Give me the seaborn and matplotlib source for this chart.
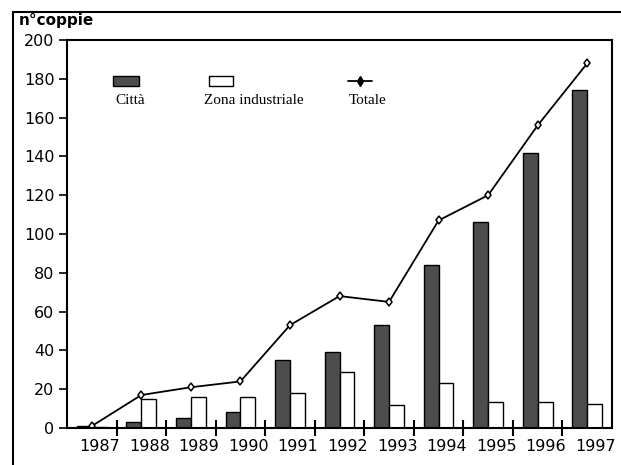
import numpy as np
import pandas as pd
import matplotlib
matplotlib.use("Agg")
import matplotlib.pyplot as plt
import matplotlib.transforms as mtransforms
from matplotlib.patches import Rectangle
from matplotlib.lines import Line2D
import seaborn as sns

# Coppie nidificanti per anno
anni = ["1987", "1988", "1989", "1990", "1991", "1992", "1993", "1994", "1995", "1996", "1997"]
citta = [1, 3, 5, 8, 35, 39, 53, 84, 106, 142, 174]
zona_industriale = [0.5, 15, 16, 16, 18, 29, 12, 23, 13.5, 13.5, 12.5]
totale = [1, 17, 21, 24, 53, 68, 65, 107, 120, 156, 188]
y_ticks = [0, 20, 40, 60, 80, 100, 120, 140, 160, 180, 200]

serie_barre = ["Città", "Zona industriale"]
colori = {"Città": "#4d4d4d", "Zona industriale": "white"}

df_barre = pd.DataFrame({
    "anno": anni * 2,
    "serie": [serie_barre[0]] * len(anni) + [serie_barre[1]] * len(anni),
    "valore": citta + zona_industriale,
})
df_tot = pd.DataFrame({"anno": anni, "totale": totale})

sns.set_theme(style="white")
plt.rcParams["font.family"] = ["DejaVu Sans"]

fig = plt.figure(figsize=(6.21, 4.65), dpi=100)
ax = fig.add_axes([67 / 621, 1 - 428 / 465, (612 - 67) / 621, (428 - 40) / 465])

sns.barplot(data=df_barre, x="anno", y="valore", hue="serie", hue_order=serie_barre,
            palette=colori, width=0.6, dodge=True, edgecolor="black", linewidth=1.0,
            saturation=1, legend=False, ax=ax)
sns.pointplot(data=df_tot, x="anno", y="totale", color="black", markers="d",
              linestyles="-", errorbar=None, ax=ax,
              markersize=4.5, markerfacecolor="white", markeredgecolor="black",
              markeredgewidth=1.1, linewidth=1.3)

ax.set_xlim(-0.5, len(anni) - 0.5)
ax.set_ylim(0, 200)
ax.set_yticks(y_ticks)
ax.set_xlabel("")
ax.set_ylabel("")

for s in ax.spines.values():
    s.set_visible(True)
    s.set_color("black")
    s.set_linewidth(1.5)

# tacche dell'asse x tra un anno e l'altro
ax.set_xticks(np.arange(len(anni) - 1) + 0.5, minor=True)
ax.tick_params(axis="x", which="major", length=0, pad=8, labelsize=11.5, colors="black")
ax.tick_params(axis="x", which="minor", bottom=True, length=12, width=1.5,
               direction="inout", color="black")
ax.tick_params(axis="y", which="major", left=True, length=6, width=1.2,
               direction="out", pad=3, labelsize=11.5, colors="black")

shift = mtransforms.ScaledTranslation(0.08, 0, fig.dpi_scale_trans)
for lab in ax.get_xticklabels():
    lab.set_transform(lab.get_transform() + shift)

# legenda con i simboli sopra le etichette
font_leg = dict(family="Liberation Serif", size=11, color="black",
                transform=ax.transAxes, va="center", ha="left")
ax.add_patch(Rectangle((0.0844, 0.882), 0.047, 0.025, transform=ax.transAxes,
                       facecolor=colori["Città"], edgecolor="black", lw=1.0, clip_on=False))
ax.text(0.088, 0.843, "Città", **font_leg)
ax.add_patch(Rectangle((0.2606, 0.882), 0.044, 0.025, transform=ax.transAxes,
                       facecolor="white", edgecolor="black", lw=1.0, clip_on=False))
ax.text(0.251, 0.843, "Zona industriale", **font_leg)
ax.add_line(Line2D([0.5156, 0.5596], [0.8946, 0.8946], transform=ax.transAxes,
                   color="black", lw=1.3))
ax.add_line(Line2D([0.5376], [0.8946], transform=ax.transAxes, color="black",
                   marker="d", markersize=5, markerfacecolor="black"))
ax.text(0.5174, 0.843, "Totale", **font_leg)

# cornice esterna e titolo dell'asse
fig.patches.append(Rectangle((13 / 621, -0.1), 1.2, 0.1 + 1 - 12 / 465,
                             transform=fig.transFigure, fill=False,
                             edgecolor="black", lw=1.5))
fig.text(19 / 621, 1 - 20 / 465, "n°coppie", fontsize=11, fontweight="bold",
         va="center", ha="left", color="black")

fig.savefig("out.png", dpi=100)
